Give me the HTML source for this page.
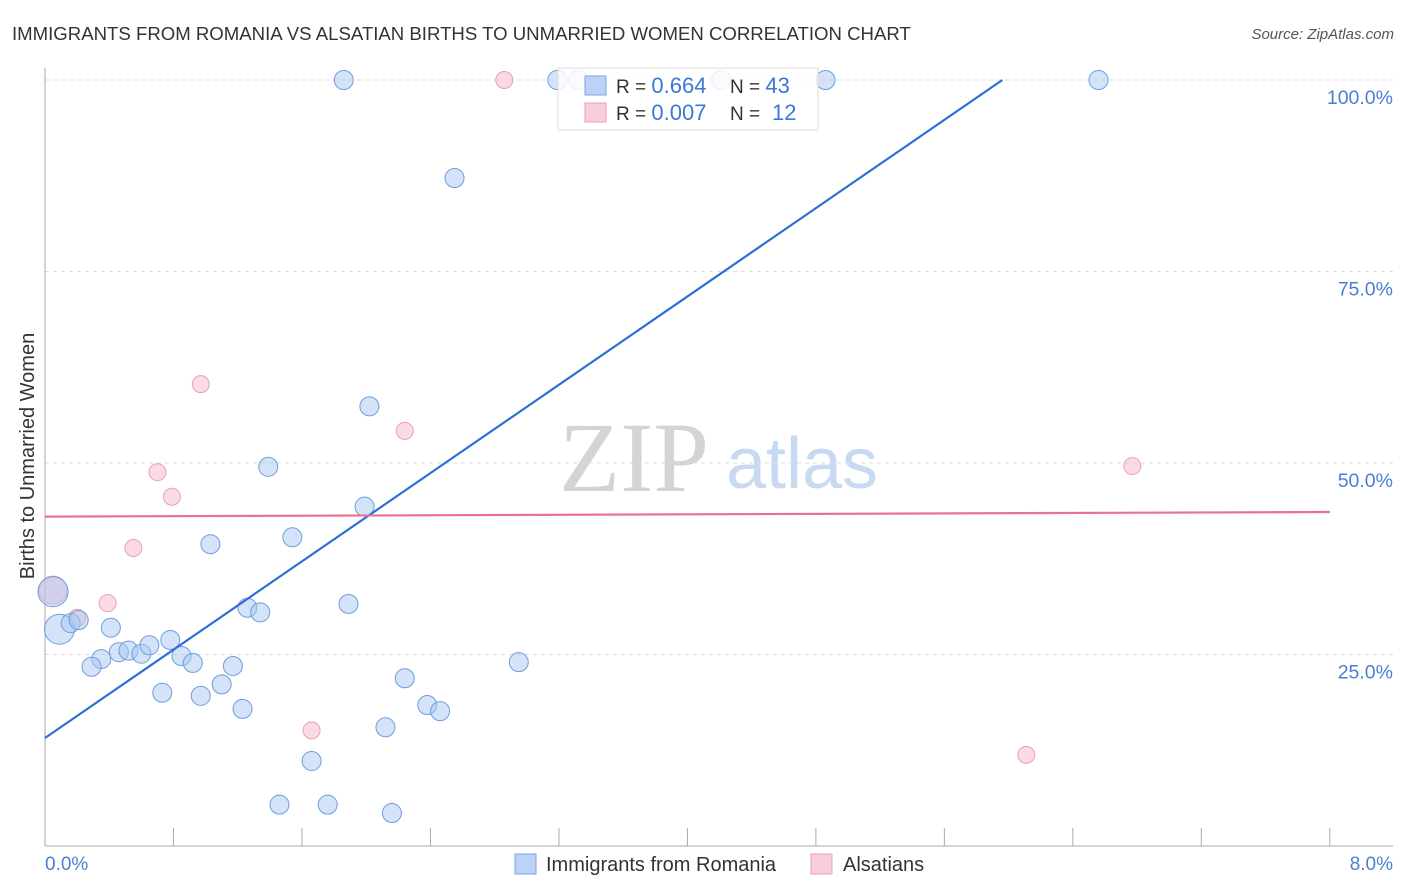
<!DOCTYPE html>
<html><head><meta charset="utf-8"><style>
body{margin:0;background:#fff;font-family:"Liberation Sans",sans-serif}
svg{display:block}
</style></head><body>
<svg id="c" width="1406" height="892">
<text x="12" y="40" font-size="18.6" fill="#333">IMMIGRANTS FROM ROMANIA VS ALSATIAN BIRTHS TO UNMARRIED WOMEN CORRELATION CHART</text>
<text x="1394" y="39" font-size="15" fill="#555" font-style="italic" text-anchor="end">Source: ZipAtlas.com</text>
<g><text x="634" y="491" font-size="100" font-family="Liberation Serif,serif" fill="#d4d4d4" text-anchor="middle">ZIP</text><text x="802" y="488" font-size="72" fill="#c8daf2" text-anchor="middle">atlas</text></g>
<text transform="translate(34,456) rotate(-90)" font-size="20" fill="#333" text-anchor="middle">Births to Unmarried Women</text>
<g id="grid"></g><g id="pts"></g><g id="lines"></g>
<g>
<rect x="558" y="68" width="260" height="62" fill="#fff" fill-opacity="0.85" stroke="#ddd"/>
<rect x="585" y="76" width="21" height="19" fill="#bcd3f5" stroke="#7aa6e4"/>
<rect x="585" y="103" width="21" height="19" fill="#f9cdd9" stroke="#eb9fb5"/>
<text x="616" y="93" font-size="19" fill="#333">R = <tspan fill="#3b78d8" font-size="22">0.664</tspan><tspan x="730">N = </tspan><tspan fill="#3b78d8" font-size="22">43</tspan></text>
<text x="616" y="120" font-size="19" fill="#333">R = <tspan fill="#3b78d8" font-size="22">0.007</tspan><tspan x="730">N = </tspan><tspan fill="#3b78d8" font-size="22" x="772">12</tspan></text>
</g>
<g>
<rect x="515" y="854" width="21" height="20" fill="#bcd3f5" stroke="#7aa6e4"/>
<text x="546" y="871" font-size="20" fill="#333">Immigrants from Romania</text>
<rect x="811" y="854" width="21" height="20" fill="#f9cdd9" stroke="#eb9fb5"/>
<text x="843" y="871" font-size="20" fill="#333">Alsatians</text>
</g>
</svg>
<script>
const yTicks=[25,50,75,100];
const yTickLabels=["25.0%","50.0%","75.0%","100.0%"];
const xTickCount=10;
const xLabels=["0.0%","8.0%"];
const blueX=[1.86,3.19,3.32,4.21,4.86,6.56,2.55,2.02,1.39,1.99,1.03,1.54,1.26,1.34,1.89,0.05,0.09,0.16,0.21,0.41,0.35,0.29,0.46,0.52,0.60,0.65,0.78,0.85,0.92,1.17,1.10,0.73,0.97,1.23,2.24,2.38,2.46,2.12,2.95,1.66,1.46,1.76,2.16];
const blueY=[100,100,100,100,100,100,87.2,57.4,49.5,44.3,39.4,40.3,31.1,30.5,31.6,33.2,28.3,29.1,29.5,28.5,24.4,23.4,25.3,25.5,25.1,26.2,26.9,24.8,23.9,23.5,21.1,20.0,19.6,17.9,21.9,18.4,17.6,15.5,24.0,11.1,5.4,5.4,4.3];
const blueBig=[15,16];
const pinkX=[0.05,0.20,0.39,0.55,0.70,0.79,0.97,2.24,1.66,2.86,6.77,6.11];
const pinkY=[33.4,29.8,31.7,38.9,48.8,45.6,60.3,54.2,15.1,100,49.6,11.9];
const pinkBig=[0];
const blueFit=[14.1,14.41];
const pinkFit=[43.0,0.075];
const X=v=>45+v*160.6, Y=v=>846-v*7.66;
const NS="http://www.w3.org/2000/svg";
function mk(t,a,p){const e=document.createElementNS(NS,t);for(const k in a)e.setAttribute(k,a[k]);p.appendChild(e);return e;}
const g=document.getElementById('grid');
yTicks.forEach((t,i)=>{
 const l=mk('line',{x1:45,x2:1393,y1:Y(t),y2:Y(t),stroke:'#ddd','stroke-dasharray':'4,4'},g);
 
 
 const tx=mk('text',{x:1393,y:Y(t)+24,'font-size':19.5,fill:'#4a7fd4','text-anchor':'end'},g);tx.textContent=yTickLabels[i];
 
 
});
const ax=mk('line',{x1:45,x2:45,y1:68,y2:846,stroke:'#aaa'},g);


const bx=mk('line',{x1:45,x2:1393,y1:846,y2:846,stroke:'#aaa'},g);


for(let i=1;i<=xTickCount;i++){const v=8*i/xTickCount;const t=mk('line',{x1:X(v),x2:X(v),y1:828,y2:846,stroke:'#aaa'},g);
 
 }
const xl0=mk('text',{x:45,y:870,'font-size':19,fill:'#4a7fd4'},g);xl0.textContent=xLabels[0];


const xl1=mk('text',{x:1393,y:870,'font-size':19,fill:'#4a7fd4','text-anchor':'end'},g);xl1.textContent=xLabels[1];


const p=document.getElementById('pts');
pinkX.forEach((x,i)=>{const c=mk('circle',{cx:X(x),cy:Y(pinkY[i]),r:pinkBig.includes(i)?14:8.5,fill:'rgba(246,184,202,0.5)',stroke:'#eb9fb5','stroke-width':1},p);
 
 });
blueX.forEach((x,i)=>{const c=mk('circle',{cx:X(x),cy:Y(blueY[i]),r:blueBig.includes(i)?15:9.5,fill:'rgba(170,200,242,0.5)',stroke:'#6d9ee0','stroke-width':1},p);
 
 });
const L=document.getElementById('lines');
const xEnd=(100-blueFit[0])/blueFit[1];
const bl=mk('line',{x1:X(0),y1:Y(blueFit[0]),x2:X(xEnd),y2:Y(100),stroke:'#2c6fd6','stroke-width':2.2},L);


const pl=mk('line',{x1:X(0),y1:Y(pinkFit[0]),x2:X(8),y2:Y(pinkFit[0]+8*pinkFit[1]),stroke:'#e8709a','stroke-width':2.2},L);


</script>
</body></html>
